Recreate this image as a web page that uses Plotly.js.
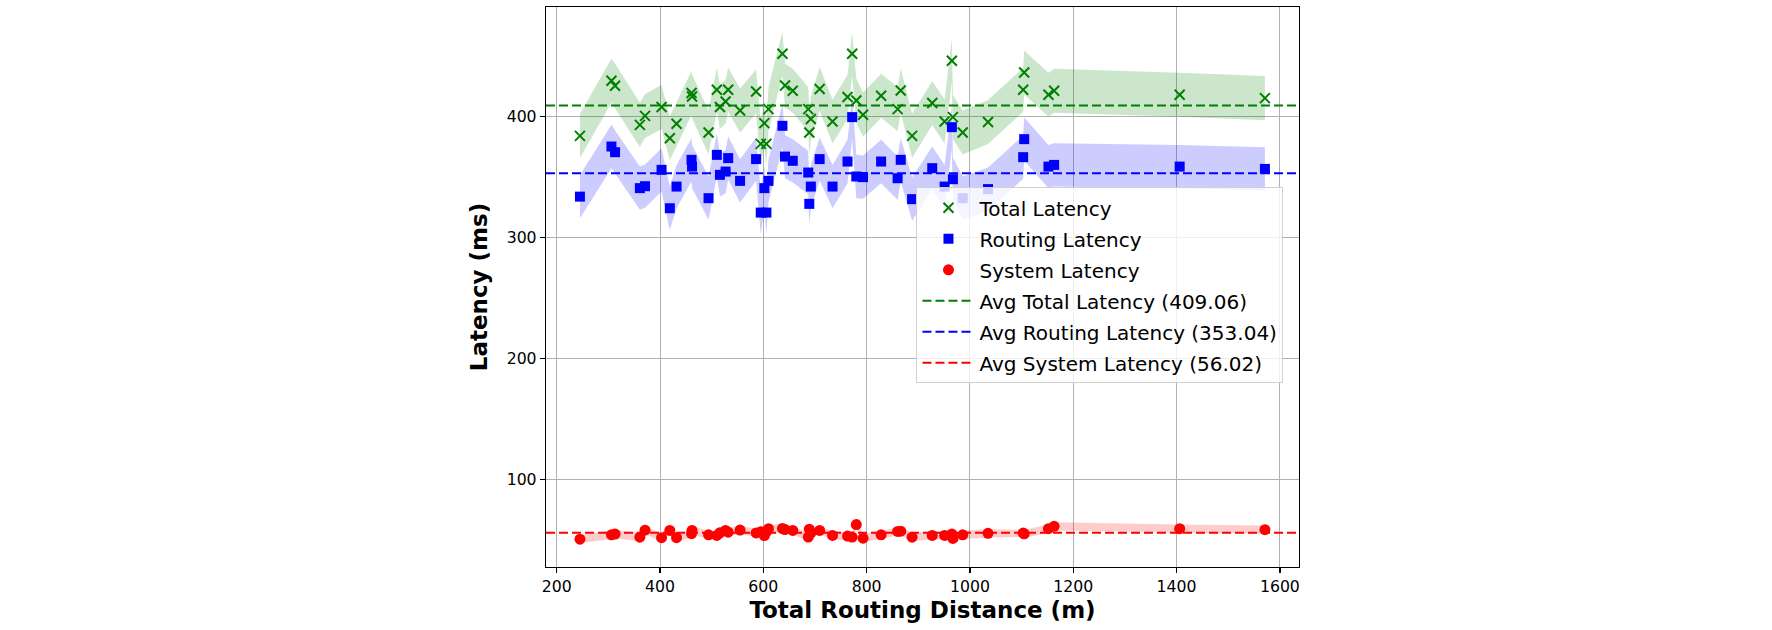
<!DOCTYPE html>
<html>
<head>
<meta charset="utf-8">
<script src="https://cdn.plot.ly/plotly-3.0.1.min.js"></script>
<style>
  html, body { margin: 0; padding: 0; background: #ffffff; }
  #chart { width: 1772px; height: 630px; }
</style>
</head>
<body>
<div id="chart"></div>
<script>
// Total routing distance per request (m), sorted ascending
const distance = [245, 306, 313, 361, 371, 403, 419, 432, 461, 462,
                  494, 510, 516, 527, 532, 555, 586, 595, 602, 606,
                  610, 637, 642, 657, 687, 689, 692, 709, 734, 763,
                  772, 780, 793, 828, 860, 866, 888, 927, 951, 965,
                  967, 986, 1035, 1103, 1105, 1152, 1163, 1406, 1571];

// Latencies (ms) for each request
const totalLatency = [384.0, 429.5, 425.4, 393.1, 400.5, 407.8, 382.1, 394.0, 419.4, 416.5,
                      386.8, 422.1, 407.8, 412.4, 422.1, 405.0, 420.7, 377.4, 394.5, 377.4,
                      406.1, 451.9, 425.6, 421.3, 406.1, 386.8, 397.9, 422.7, 395.9, 416.1,
                      451.9, 413.2, 401.4, 417.1, 406.1, 421.5, 384.0, 411.1, 395.9, 446.1,
                      399.5, 386.8, 395.5, 422.1, 436.4, 418.0, 421.3, 418.0, 415.2];

const routingLatency = [333.8, 375.2, 370.5, 340.8, 342.4, 355.9, 324.2, 342.1, 364.2, 358.6,
                        332.5, 368.3, 351.8, 354.5, 365.6, 346.8, 364.8, 320.6, 340.8, 320.6,
                        346.8, 392.3, 366.9, 363.4, 353.7, 327.8, 342.1, 364.8, 342.1, 362.8,
                        399.5, 350.4, 349.9, 362.8, 349.0, 364.2, 331.7, 357.3, 342.1, 391.2,
                        348.2, 332.5, 340.0, 366.4, 381.3, 358.6, 360.0, 358.6, 356.7];

const systemLatency = [50.7, 54.3, 54.9, 52.3, 58.1, 51.9, 57.9, 51.9, 55.2, 57.9,
                       54.3, 53.8, 56.0, 57.9, 56.5, 58.2, 55.9, 56.8, 53.7, 56.8,
                       59.3, 59.6, 58.7, 57.9, 52.4, 59.0, 55.8, 57.9, 53.8, 53.3,
                       52.4, 62.8, 51.5, 54.3, 57.1, 57.3, 52.3, 53.8, 53.8, 54.9,
                       51.3, 54.3, 55.5, 55.7, 55.1, 59.4, 61.3, 59.4, 58.5];

// Standard deviation of each series (shaded band half-width)
const totalStd = 18.2;
const routingStd = 17.9;
const systemStd = 3.4;

// Mean latency of each series
const avgTotal = 409.06;
const avgRouting = 353.04;
const avgSystem = 56.02;

// Axis ranges
const xRange = [179.3, 1637];
const yRange = [27.7, 490.5];

const FONT = '"DejaVu Sans", "Liberation Sans", sans-serif';

function band(ys, sd, fillcolor) {
  const upper = ys.map(v => v + sd);
  const lower = ys.map(v => v - sd);
  return {
    x: distance.concat(distance.slice().reverse()),
    y: upper.concat(lower.slice().reverse()),
    type: 'scatter',
    mode: 'lines',
    fill: 'toself',
    fillcolor: fillcolor,
    line: { width: 0, color: fillcolor },
    hoverinfo: 'skip',
    showlegend: false
  };
}

function avgLine(value, label, color, group) {
  return {
    x: [xRange[0], xRange[1]],
    y: [value, value],
    type: 'scatter',
    mode: 'lines',
    name: label + ' (' + value.toFixed(2) + ')',
    legendgroup: group,
    line: { color: color, width: 2, dash: '9px,4px' }
  };
}

const traces = [
  band(totalLatency, totalStd, 'rgba(0,128,0,0.2)'),
  band(routingLatency, routingStd, 'rgba(0,0,255,0.2)'),
  band(systemLatency, systemStd, 'rgba(255,0,0,0.2)'),
  {
    x: distance, y: totalLatency, type: 'scatter', mode: 'markers',
    name: 'Total Latency', legendgroup: 'g1',
    marker: { symbol: 'x-thin', size: 10, color: 'green', line: { width: 2, color: 'green' } }
  },
  {
    x: distance, y: routingLatency, type: 'scatter', mode: 'markers',
    name: 'Routing Latency', legendgroup: 'g2',
    marker: { symbol: 'square', size: 10, color: 'blue' }
  },
  {
    x: distance, y: systemLatency, type: 'scatter', mode: 'markers',
    name: 'System Latency', legendgroup: 'g3',
    marker: { symbol: 'circle', size: 11, color: 'red' }
  },
  avgLine(avgTotal, 'Avg Total Latency', 'green', 'g4'),
  avgLine(avgRouting, 'Avg Routing Latency', 'blue', 'g5'),
  avgLine(avgSystem, 'Avg System Latency', 'red', 'g6')
];

const axisCommon = {
  showgrid: true,
  gridcolor: '#b0b0b0',
  gridwidth: 1,
  showline: true,
  linecolor: '#000000',
  linewidth: 1.25,
  mirror: true,
  ticks: 'outside',
  ticklen: 5,
  tickwidth: 1.25,
  tickcolor: '#000000',
  tickfont: { family: FONT, size: 15.7, color: '#000000' },
  zeroline: false
};

const layout = {
  width: 1772,
  height: 630,
  margin: { l: 546, r: 472.7, t: 7.3, b: 63.3 },
  paper_bgcolor: '#ffffff',
  plot_bgcolor: '#ffffff',
  font: { family: FONT, color: '#000000' },
  showlegend: true,
  xaxis: Object.assign({}, axisCommon, {
    range: xRange,
    tick0: 200,
    dtick: 200,
    title: { text: '<b>Total Routing Distance (m)</b>', font: { family: FONT, size: 23, color: '#000000' }, standoff: 6 }
  }),
  yaxis: Object.assign({}, axisCommon, {
    range: yRange,
    tick0: 100,
    dtick: 100,
    title: { text: '<b>Latency (ms)</b>', font: { family: FONT, size: 23, color: '#000000' }, standoff: 12 }
  }),
  legend: {
    x: 0.492,
    y: 0.678,
    xanchor: 'left',
    yanchor: 'top',
    bgcolor: 'rgba(255,255,255,0.8)',
    bordercolor: '#d0d0d0',
    borderwidth: 1,
    traceorder: 'grouped',
    tracegroupgap: 2,
    itemwidth: 52,
    font: { family: FONT, size: 20, color: '#000000' }
  }
};

Plotly.newPlot('chart', traces, layout, { displayModeBar: false, staticPlot: true });
</script>
</body>
</html>
